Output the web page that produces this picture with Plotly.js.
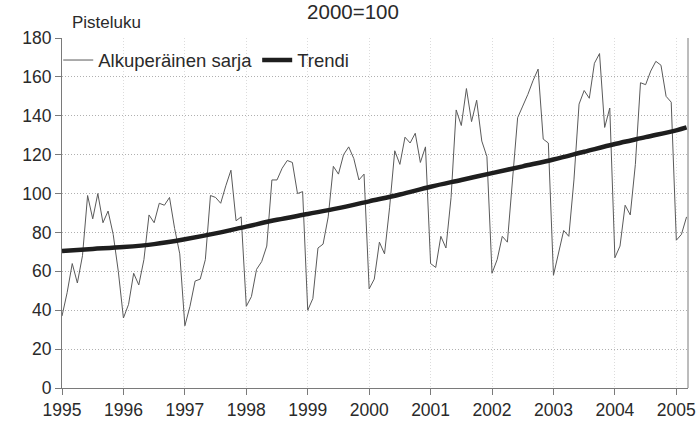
<!DOCTYPE html>
<html>
<head>
<meta charset="utf-8">
<script src="https://cdn.plot.ly/plotly-3.0.1.min.js"></script>
<style>html,body{margin:0;padding:0;background:#fff;}#chart{width:699px;height:426px;}</style>
</head>
<body>
<div id="chart"></div>
<script>
// Monthly original series, Jan 1995 – Mar 2005 (index 2000=100)
var startYear = 1995;
var original = [
  37, 49, 64, 54, 68, 99, 87, 100, 85, 91, 79, 60,
  36, 43, 59, 53, 66, 89, 85, 95, 94, 98, 82, 69,
  32, 42, 55, 56, 66, 99, 98, 95, 104, 112, 86, 88,
  42, 47, 61, 65, 73, 107, 107, 113, 117, 116, 100, 101,
  40, 46, 72, 74, 88, 114, 110, 120, 124, 118, 107, 110,
  51, 56, 75, 69, 93, 122, 115, 129, 126, 131, 116, 124,
  64, 62, 78, 72, 98, 143, 135, 154, 137, 148, 127, 119,
  59, 66, 78, 75, 107, 139, 145, 151, 158, 164, 128, 126,
  58, 69, 81, 78, 107, 146, 153, 149, 167, 172, 134, 144,
  67, 73, 94, 89, 115, 157, 156, 163, 168, 166, 150, 147,
  76, 79, 88
];
// Trend read at half-year points
var trendX = [1995.0, 1995.5, 1996.0, 1996.5, 1997.0, 1997.5, 1998.0, 1998.5, 1999.0, 1999.5,
              2000.0, 2000.5, 2001.0, 2001.5, 2002.0, 2002.5, 2003.0, 2003.5, 2004.0, 2004.5,
              2005.0, 2005.167];
var trendY = [70.5, 71.5, 72.5, 74, 76.5, 79.5, 83, 86.5, 89.5, 92.5,
              96, 99.5, 103.5, 107, 110.5, 114, 117.5, 121.5, 125.5, 129,
              132.5, 134];
var yearTicks = [1995, 1996, 1997, 1998, 1999, 2000, 2001, 2002, 2003, 2004, 2005];
var yTicks = [0, 20, 40, 60, 80, 100, 120, 140, 160, 180];
var names = ["Alkuperäinen sarja", "Trendi"];

var origX = original.map(function(v, i){ return startYear + i / 12; });

var FONT = "Liberation Sans, Arial, sans-serif";
var traces = [
  {x: origX, y: original, type: "scatter", mode: "lines", name: names[0],
   line: {color: "#5a5a5a", width: 1}},
  {x: trendX, y: trendY, type: "scatter", mode: "lines", name: names[1],
   line: {color: "#1e1e1e", width: 4.5, shape: "spline"}}
];

var layout = {
  width: 699, height: 426,
  margin: {l: 62, r: 11, t: 38, b: 38},
  paper_bgcolor: "#fff", plot_bgcolor: "#fff",
  font: {family: FONT, size: 17, color: "#2a2a2a"},
  title: {text: "2000=100", font: {family: FONT, size: 20.5, color: "#2a2a2a"},
          x: 0.505, xref: "container", y: 0.99, yref: "container", yanchor: "top", pad: {t: 0}},
  showlegend: true,
  legend: {orientation: "h", x: -0.006, y: 0.99, xanchor: "left", yanchor: "top",
           bgcolor: "rgba(0,0,0,0)", font: {family: FONT, size: 18.5, color: "#2a2a2a"},
           itemwidth: 30, tracegroupgap: 0},
  xaxis: {range: [1995, 2005.19], tickvals: yearTicks, ticktext: yearTicks.map(String),
          showgrid: true, gridcolor: "#dcdcdc", griddash: "1px,2px", gridwidth: 1,
          showline: true, linecolor: "#7a7a7a", linewidth: 1, mirror: false,
          ticks: "outside", ticklen: 6, tickcolor: "#7a7a7a",
          zeroline: false, tickfont: {size: 17.5}},
  yaxis: {range: [0, 180], tickvals: yTicks,
          showgrid: true, gridcolor: "#b0b0b0", griddash: "1px,2px", gridwidth: 1,
          showline: true, linecolor: "#7a7a7a", linewidth: 1,
          ticks: "outside", ticklen: 6, tickcolor: "#7a7a7a",
          zeroline: false, tickfont: {size: 17.5}},
  shapes: [
    {type: "line", xref: "paper", yref: "paper", x0: 1, x1: 1, y0: 0, y1: 1,
     line: {color: "#7a7a7a", width: 1}}
  ],
  annotations: [
    {text: "Pisteluku", xref: "paper", yref: "paper", x: 0.012, y: 1, xanchor: "left",
     yanchor: "bottom", yshift: 4, showarrow: false,
     font: {family: FONT, size: 17, color: "#2a2a2a"}}
  ]
};

Plotly.newPlot("chart", traces, layout, {displayModeBar: false, staticPlot: true});
</script>
</body>
</html>
